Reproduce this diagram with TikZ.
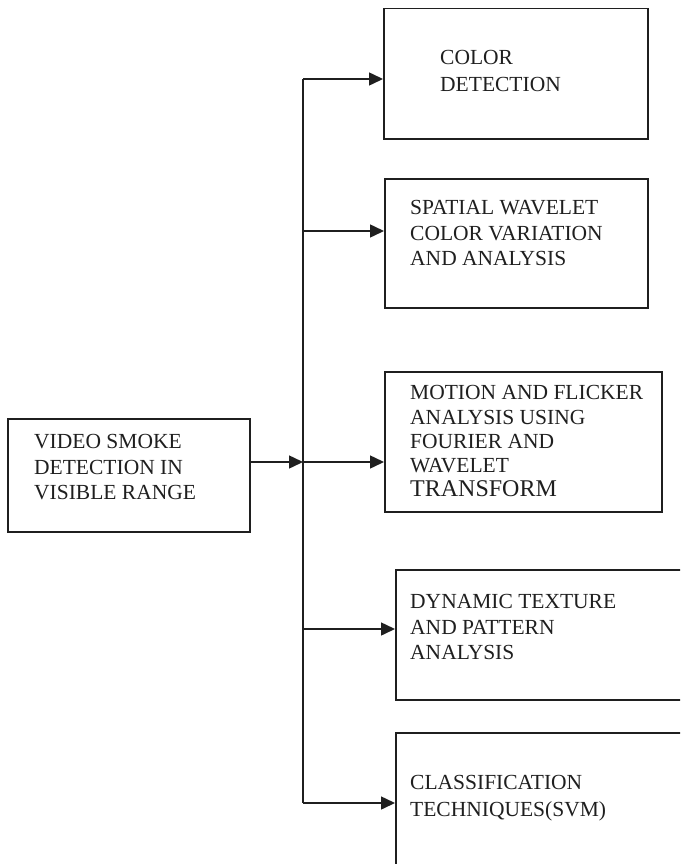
\documentclass[tikz,border=0pt]{standalone}
\usepackage{fontspec}
\setmainfont{Liberation Serif}
\usetikzlibrary{arrows.meta}
\begin{document}
\begin{tikzpicture}[x=1pt,y=-1pt,
  box/.style={draw=black!88, line width=1.5pt, inner sep=0pt, anchor=north west, fill=none},
  lbl/.style={anchor=north west, inner sep=0pt, align=left, font=\fontsize{21.5}{25.5}\selectfont, text=black!88},
  conn/.style={line width=1.5pt, draw=black!88},
  arr/.style={conn, -{Triangle[length=14pt,width=13pt]}}]
\useasboundingbox (0,0) rectangle (680,864);
\clip (0,0) rectangle (680,864);
% boxes
\node[box, minimum width=242pt, minimum height=113pt] (L) at (7,418) {};
\node[box, minimum width=264pt, minimum height=130pt] (b1) at (383,8) {};
\node[box, minimum width=263pt, minimum height=129pt] (b2) at (384,178) {};
\node[box, minimum width=277pt, minimum height=140pt] (b3) at (384,371) {};
\node[box, minimum width=300pt, minimum height=130pt] (b4) at (395,569) {};
\node[box, minimum width=300pt, minimum height=150pt] (b5) at (395,732) {};
% texts
\node[lbl] (tL) at (34,434.5) {VIDEO SMOKE\\DETECTION IN\\VISIBLE RANGE};
\node[lbl, font=\fontsize{21.5}{27}\selectfont] (t1) at (440,50.5) {COLOR\\DETECTION};
\node[lbl] (t2) at (410,200.5) {SPATIAL WAVELET\\COLOR VARIATION\\AND ANALYSIS};
\node[lbl, font=\fontsize{21.5}{24.2}\selectfont] (t3) at (410,385.5) {MOTION AND FLICKER\\ANALYSIS USING\\FOURIER AND\\WAVELET\\{\fontsize{24}{24.2}\selectfont TRANSFORM}};
\node[lbl] (t4) at (410,594.5) {DYNAMIC TEXTURE\\AND PATTERN\\ANALYSIS};
\node[lbl, font=\fontsize{21.5}{27}\selectfont] (t5) at (410,775.5) {CLASSIFICATION\\TECHNIQUES(SVM)};
% junctions on the bus
\coordinate (j1) at (303,79);
\coordinate (j2) at (303,231);
\coordinate (j3) at (303,462);
\coordinate (j4) at (303,629);
\coordinate (j5) at (303,803);
% connectors
\draw[conn] (j1) -- (j5);
\draw[arr] (L.east |- j3) -- (j3);
\draw[arr] (j1) -- (j1 -| b1.west);
\draw[arr] (j2) -- (j2 -| b2.west);
\draw[arr] (j3) -- (j3 -| b3.west);
\draw[arr] (j4) -- (j4 -| b4.west);
\draw[arr] (j5) -- (j5 -| b5.west);
\end{tikzpicture}
\end{document}
